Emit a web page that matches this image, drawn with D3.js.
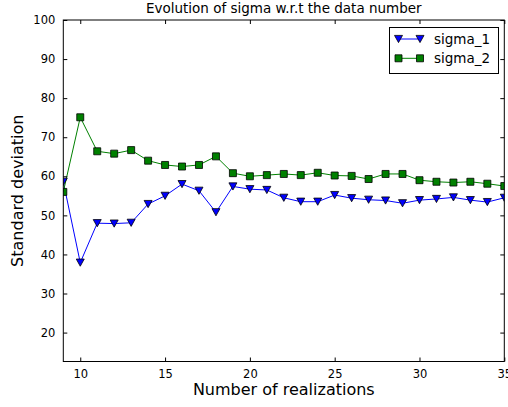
<!DOCTYPE html>
<html>
<head>
    <meta charset="utf-8">
    <title>Evolution of sigma</title>
    <style>
        body { margin: 0; background: #fff; }
        text { font-family: "DejaVu Sans", sans-serif; fill: #000; }
    </style>
</head>
<body>
    <script src="https://cdnjs.cloudflare.com/ajax/libs/d3/7.9.0/d3.min.js"></script>
    <script>
        const realizations = [9, 10, 11, 12, 13, 14, 15, 16, 17, 18, 19, 20, 21, 22,
            23, 24, 25, 26, 27, 28, 29, 30, 31, 32, 33, 34, 35];
        const sigma1 = [58.6, 37.9, 48.0, 47.9, 48.1, 52.9, 55.0, 58.0, 56.3, 50.8, 57.4, 56.7, 56.5, 54.5,
            53.5, 53.5, 55.2, 54.4, 54.0, 53.8, 53.1, 53.9, 54.2, 54.6, 53.9, 53.4, 54.5];
        const sigma2 = [56.0, 75.1, 66.4, 65.8, 66.7, 64.0, 62.9, 62.5, 62.9, 65.1, 60.8, 60.0, 60.3, 60.6,
            60.3, 60.9, 60.2, 60.1, 59.3, 60.6, 60.6, 59.0, 58.6, 58.4, 58.6, 58.1, 57.5];
        const xTicks = [10, 15, 20, 25, 30, 35];
        const yTicks = [20, 30, 40, 50, 60, 70, 80, 90, 100];

        const width = 508;
        const height = 407;
        const m = {left: 63.3, right: 504.3, top: 20, bottom: 361.5};

        const svg = d3.select("body")
            .append("svg")
            .attr("width", width)
            .attr("height", height);

        const x = d3.scaleLinear().domain([9, 35]).range([m.left, m.right]);
        const y = d3.scaleLinear().domain([12.6, 100]).range([m.bottom, m.top]);

        // clip lines and markers to the frame like matplotlib
        svg.append("clipPath").attr("id", "clip")
            .append("rect")
            .attr("x", m.left).attr("y", m.top)
            .attr("width", m.right - m.left).attr("height", m.bottom - m.top);

        const plot = svg.append("g").attr("clip-path", "url(#clip)");

        const series = [
            {name: "sigma_1", values: sigma1, color: "#0000ff", marker: "tri"},
            {name: "sigma_2", values: sigma2, color: "#008000", marker: "sq"}
        ];

        const line = d3.line()
            .x((d, i) => x(realizations[i]))
            .y(d => y(d));

        const triangle = "M-4,-3.6L4,-3.6L0,3.6Z";
        const square = "M-3.5,-3.5H3.5V3.5H-3.5Z";

        series.forEach(s => {
            plot.append("path")
                .datum(s.values)
                .attr("fill", "none")
                .attr("stroke", s.color)
                .attr("stroke-width", 1)
                .attr("d", line);
        });

        series.forEach(s => {
            plot.selectAll(".m-" + s.marker)
                .data(s.values)
                .enter()
                .append("path")
                .attr("class", "m-" + s.marker)
                .attr("transform", (d, i) => `translate(${x(realizations[i])},${y(d)})`)
                .attr("d", s.marker === "tri" ? triangle : square)
                .attr("fill", s.color)
                .attr("stroke", "#000")
                .attr("stroke-width", 0.8);
        });

        // axes (ticks pointing inward, mirrored on top and right)
        const fmt = d3.format("d");
        svg.append("g")
            .attr("transform", `translate(0,${m.bottom})`)
            .call(d3.axisBottom(x).tickValues(xTicks).tickFormat(fmt).tickSizeInner(-4).tickSizeOuter(0).tickPadding(8))
            .call(g => g.select(".domain").remove());
        svg.append("g")
            .attr("transform", `translate(0,${m.top})`)
            .call(d3.axisTop(x).tickValues(xTicks).tickFormat("").tickSizeInner(-4).tickSizeOuter(0))
            .call(g => g.select(".domain").remove());
        svg.append("g")
            .attr("transform", `translate(${m.left},0)`)
            .call(d3.axisLeft(y).tickValues(yTicks).tickFormat(fmt).tickSizeInner(-4).tickSizeOuter(0).tickPadding(8))
            .call(g => g.select(".domain").remove());
        svg.append("g")
            .attr("transform", `translate(${m.right},0)`)
            .call(d3.axisRight(y).tickValues(yTicks).tickFormat("").tickSizeInner(-4).tickSizeOuter(0))
            .call(g => g.select(".domain").remove());

        svg.selectAll(".tick text")
            .style("font-family", "DejaVu Sans, sans-serif")
            .style("font-size", "11.5px")
            .attr("fill", "#000");
        svg.selectAll(".tick line").attr("stroke", "#000");

        svg.append("rect")
            .attr("x", m.left).attr("y", m.top)
            .attr("width", m.right - m.left).attr("height", m.bottom - m.top)
            .attr("fill", "none")
            .attr("stroke", "#000")
            .attr("stroke-width", 1);

        svg.append("text")
            .attr("x", (m.left + m.right) / 2)
            .attr("y", 12.5)
            .attr("text-anchor", "middle")
            .style("font-size", "13.5px")
            .text("Evolution of sigma w.r.t the data number");

        svg.append("text")
            .attr("x", (m.left + m.right) / 2)
            .attr("y", 395)
            .attr("text-anchor", "middle")
            .style("font-size", "16px")
            .text("Number of realizations");

        svg.append("text")
            .attr("transform", `translate(23,${(m.top + m.bottom) / 2}) rotate(-90)`)
            .attr("text-anchor", "middle")
            .style("font-size", "16px")
            .text("Standard deviation");

        // legend
        const legend = svg.append("g");
        legend.append("rect")
            .attr("x", 389.5).attr("y", 27.5)
            .attr("width", 109).attr("height", 46)
            .attr("fill", "#fff")
            .attr("stroke", "#000")
            .attr("stroke-width", 1);

        series.forEach((s, i) => {
            const ly = 39 + i * 19.3;
            legend.append("line")
                .attr("x1", 398.5).attr("x2", 420)
                .attr("y1", ly).attr("y2", ly)
                .attr("stroke", s.color);
            [398.5, 420].forEach(mx => {
                legend.append("path")
                    .attr("transform", `translate(${mx},${ly})`)
                    .attr("d", s.marker === "tri" ? triangle : square)
                    .attr("fill", s.color)
                    .attr("stroke", "#000")
                    .attr("stroke-width", 0.8);
            });
            legend.append("text")
                .attr("x", 434)
                .attr("y", ly + 5)
                .style("font-size", "13.5px")
                .text(s.name);
        });
    </script>
</body>
</html>
